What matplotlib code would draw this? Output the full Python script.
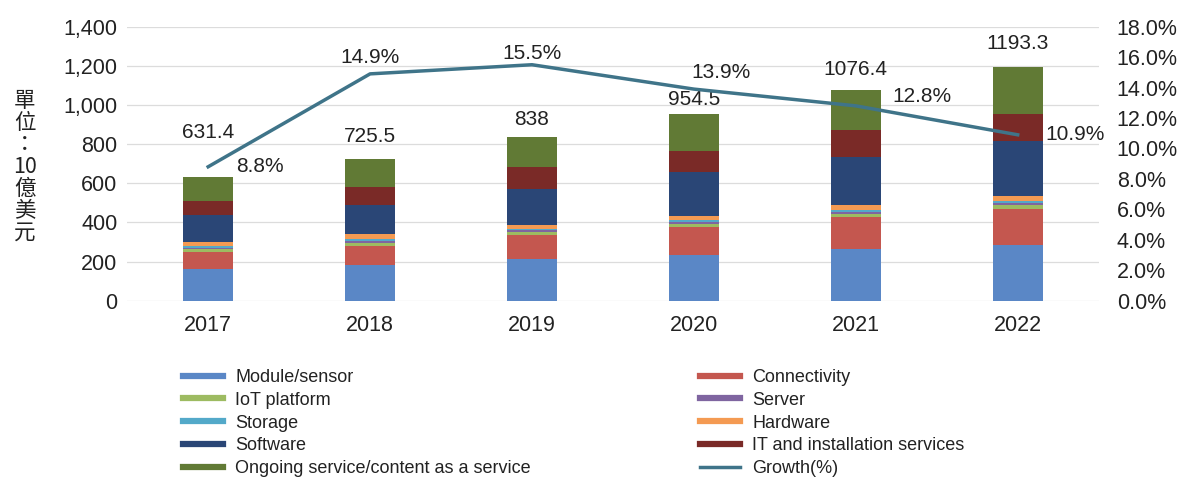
import matplotlib.pyplot as plt
from matplotlib.lines import Line2D
from matplotlib.ticker import FuncFormatter, MultipleLocator
import numpy as np

plt.rcParams['font.family'] = ['Liberation Sans', 'DejaVu Sans']

#.........data (10億美元)...........................
years = ['2017', '2018', '2019', '2020', '2021', '2022']
module_sensor = [162, 182, 211, 235, 265, 286]
connectivity = [87, 97, 126, 141, 162, 184]
iot_platform = [14, 18, 15, 18, 18, 20]
server = [8, 10, 8, 9, 9, 10]
storage = [8, 10, 8, 9, 9, 10]
hardware = [19, 26, 20, 23, 24, 27]
software = [141, 147, 184, 222, 246, 281]
it_services = [72, 93, 110, 110, 141, 136]
ongoing = [120.4, 142.5, 156, 187.5, 202.4, 239.3]
totals = [631.4, 725.5, 838, 954.5, 1076.4, 1193.3]
growth = [8.8, 14.9, 15.5, 13.9, 12.8, 10.9]

series = [
    ('Module/sensor', module_sensor, '#5a87c6'),
    ('Connectivity', connectivity, '#c4574f'),
    ('IoT platform', iot_platform, '#9dbb61'),
    ('Server', server, '#7f65a0'),
    ('Storage', storage, '#53a9c9'),
    ('Hardware', hardware, '#f49a52'),
    ('Software', software, '#2a4676'),
    ('IT and installation services', it_services, '#7a2a27'),
    ('Ongoing service/content as a service', ongoing, '#617a35'),
]
line_color = '#3f7489'

fig = plt.figure(figsize=(11.89, 5.03), dpi=100)
ax = fig.add_axes([0.107, 0.402, 0.817, 0.545])
ax2 = ax.twinx()

x = np.arange(len(years))
bottom = np.zeros(len(years))
for name, vals, col in series:
    ax.bar(x, vals, 0.31, bottom=bottom, color=col, label=name, zorder=2)
    bottom += np.array(vals)

# total labels above each bar (px offsets)
label_dy = [45, 22, 17, 14, 21, 24]
for i, t in enumerate(totals):
    ax.annotate(f'{t:g}', (i, t), xytext=(0, label_dy[i] * 0.72), textcoords='offset points',
                ha='center', va='center', fontsize=15, color='#222222')

ax.set_xlim(-0.5, 5.5)
ax.set_ylim(0, 1400)
ax.yaxis.set_major_locator(MultipleLocator(200))
ax.yaxis.set_major_formatter(FuncFormatter(lambda v, p: f'{v:,.0f}'))
ax.set_xticks(x)
ax.set_xticklabels(years)
ax.grid(axis='y', color='#dcdcdc', lw=0.9, zorder=0)
ax.set_axisbelow(True)

ax2.plot(x, growth, color=line_color, lw=2.5, zorder=3)
ax2.set_ylim(0, 18)
ax2.yaxis.set_major_locator(MultipleLocator(2))
ax2.yaxis.set_major_formatter(FuncFormatter(lambda v, p: f'{v:.1f}%'))

# growth labels: (dx, dy) px, alignment
g_pos = [(28, 0, 'left'), (0, 16, 'center'), (0, 11, 'center'),
         (27, 17, 'center'), (37, 9, 'left'), (28, 0, 'left')]
for i, g in enumerate(growth):
    dx, dy, ha = g_pos[i]
    ax2.annotate(f'{g:.1f}%', (i, g), xytext=(dx * 0.72, dy * 0.72), textcoords='offset points',
                 ha=ha, va='center', fontsize=15, color='#222222')

for a in (ax, ax2):
    for s in a.spines.values():
        s.set_visible(False)
    a.tick_params(length=0, labelsize=15.5, labelcolor='#222222')
ax.tick_params(axis='y', pad=7)
ax.tick_params(axis='x', pad=10)
ax2.tick_params(axis='y', pad=13)

fig.text(0.021, 0.668, '單\n位\n：\n10\n億\n美\n元', ha='center', va='center',
         fontsize=15.5, linespacing=1.0, color='#222222',
         family=['Noto Sans CJK TC', 'DejaVu Sans'])

# legend in two columns
h = {name: Line2D([], [], color=col, lw=4.5) for name, vals, col in series}
h['Growth(%)'] = Line2D([], [], color=line_color, lw=2.5)
col1 = ['Module/sensor', 'IoT platform', 'Storage', 'Software', 'Ongoing service/content as a service']
col2 = ['Connectivity', 'Server', 'Hardware', 'IT and installation services', 'Growth(%)']
for names, xl in ((col1, 183), (col2, 700)):
    leg = fig.legend([h[n] for n in names], names, loc='upper left',
                     bbox_to_anchor=(xl / 1189, 1 - 369 / 503), frameon=False,
                     fontsize=13, handlelength=2.2, handletextpad=0.7,
                     labelspacing=0.32, borderpad=0, borderaxespad=0)
    for t in leg.get_texts():
        t.set_color('#222222')

fig.savefig('out.png', dpi=100)
